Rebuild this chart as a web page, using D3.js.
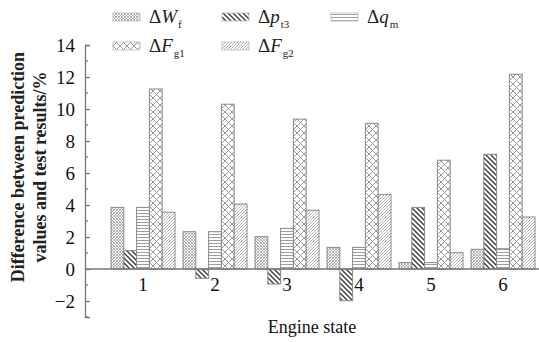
<!DOCTYPE html>
<html>
<head>
<meta charset="utf-8">
<script src="https://cdn.jsdelivr.net/npm/d3@7"></script>
<style>
  body { margin: 0; background: #fff; }
  svg { display: block; font-family: 'Liberation Serif', 'Times New Roman', serif; }
</style>
</head>
<body>
<div id="chart"></div>
<script>
const states = ['1', '2', '3', '4', '5', '6']
const seriesKeys = ['Wf', 'pt3', 'qm', 'Fg1', 'Fg2']

// values, in %
const dWf = [3.85, 2.33, 2.02, 1.35, 0.4, 1.23]
const dPt3 = [1.15, -0.58, -0.94, -1.98, 3.85, 7.17]
const dQm = [3.85, 2.33, 2.54, 1.35, 0.4, 1.27]
const dFg1 = [11.25, 10.3, 9.37, 9.1, 6.8, 12.17]
const dFg2 = [3.55, 4.06, 3.67, 4.65, 1.02, 3.25]

const yTicks = [-2, 0, 2, 4, 6, 8, 10, 12, 14]

const seriesValues = { Wf: dWf, pt3: dPt3, qm: dQm, Fg1: dFg1, Fg2: dFg2 }

const width = 539
const height = 342
const gray = '#8a8a8a'

const svg = d3.select('#chart').append('svg')
  .attr('width', width)
  .attr('height', height)

const defs = svg.append('defs')

// hatch patterns, one per series
function pattern(id, size, draw) {
  const p = defs.append('pattern')
    .attr('id', id)
    .attr('width', size)
    .attr('height', size)
    .attr('patternUnits', 'userSpaceOnUse')
  p.append('rect').attr('width', size).attr('height', size).attr('fill', '#fff')
  draw(p)
}

pattern('pat-Wf', 3, (p) => {
  p.append('path').attr('d', 'M-1,-1L4,4M-1,4L4,-1')
    .attr('stroke', '#a0a0a0').attr('stroke-width', 0.8)
})
pattern('pat-pt3', 5, (p) => {
  p.append('path').attr('d', 'M-1,-1L6,6M-1,4L1,6M4,-1L6,1')
    .attr('stroke', '#444').attr('stroke-width', 1.5)
})
pattern('pat-qm', 3, (p) => {
  p.append('path').attr('d', 'M0,0.5H3').attr('stroke', '#a0a0a0').attr('stroke-width', 1)
})
pattern('pat-Fg1', 7, (p) => {
  p.append('path').attr('d', 'M0,0L7,7M7,0L0,7M-1,6L1,8M6,-1L8,1M-1,1L1,-1M6,8L8,6')
    .attr('stroke', '#999').attr('stroke-width', 1)
})
pattern('pat-Fg2', 3, (p) => {
  p.append('path').attr('d', 'M-1,1L1,-1M0,3L3,0M2,4L4,2')
    .attr('stroke', '#aaa').attr('stroke-width', 0.9)
})

const x0 = d3.scaleBand()
  .domain(states)
  .range([107, 539])
  .paddingInner(8 / 72)
  .paddingOuter(4 / 72)

const x1 = d3.scaleBand()
  .domain(seriesKeys)
  .range([0, x0.bandwidth()])

const y = d3.scaleLinear()
  .domain([-3, 14])
  .range([317, 45])

// bars
const groups = svg.append('g')
  .selectAll('g')
  .data(states)
  .join('g')
  .attr('transform', (d) => `translate(${x0(d)},0)`)

groups.selectAll('rect')
  .data((d, i) => seriesKeys.map((k) => ({ key: k, value: seriesValues[k][i] })))
  .join('rect')
  .attr('x', (d) => x1(d.key))
  .attr('width', x1.bandwidth())
  .attr('y', (d) => y(Math.max(0, d.value)))
  .attr('height', (d) => Math.abs(y(d.value) - y(0)))
  .attr('fill', (d) => `url(#pat-${d.key})`)
  .attr('stroke', gray)
  .attr('stroke-width', 1)

// zero line across the plot
svg.append('line')
  .attr('x1', 85).attr('x2', width)
  .attr('y1', y(0)).attr('y2', y(0))
  .attr('stroke', '#777').attr('stroke-width', 1.3)

// y axis, ticks pointing inward
const yAxis = svg.append('g')
  .attr('transform', 'translate(85,0)')
  .call(d3.axisLeft(y).tickValues(yTicks).tickSize(-5).tickPadding(10).tickFormat((d) => d < 0 ? '\u2212' + Math.abs(d) : d))
yAxis.select('.domain').attr('stroke', '#777').attr('stroke-width', 1.3)
yAxis.selectAll('.tick line').attr('stroke', '#777').attr('stroke-width', 1.2)
yAxis.selectAll('.tick text')
  .attr('font-size', 19)
  .attr('font-family', 'Liberation Serif, serif')
  .attr('fill', '#111')

// minor ticks at odd values
svg.append('g')
  .selectAll('line')
  .data(d3.range(-3, 14, 2))
  .join('line')
  .attr('x1', 85).attr('x2', 88)
  .attr('y1', (d) => y(d)).attr('y2', (d) => y(d))
  .attr('stroke', '#777').attr('stroke-width', 1.2)

// x labels, no ticks
svg.append('g')
  .selectAll('text')
  .data(states)
  .join('text')
  .attr('x', (d) => x0(d) + x0.bandwidth() / 2)
  .attr('y', 291)
  .attr('text-anchor', 'middle')
  .attr('font-size', 19)
  .attr('fill', '#111')
  .text((d) => d)

svg.append('text')
  .attr('x', 312)
  .attr('y', 333)
  .attr('text-anchor', 'middle')
  .attr('font-size', 18)
  .attr('fill', '#111')
  .text('Engine state')

const yTitle = svg.append('text')
  .attr('transform', 'translate(0,167) rotate(-90)')
  .attr('text-anchor', 'middle')
  .attr('font-size', 18)
  .attr('font-weight', 'bold')
  .attr('fill', '#222')
yTitle.append('tspan').attr('x', 0).attr('y', 24).text('Difference between prediction')
yTitle.append('tspan').attr('x', 0).attr('y', 46).text('values and test results/%')

// legend
const legendItems = [
  { key: 'Wf', main: 'W', sub: 'f', col: 0, row: 0 },
  { key: 'pt3', main: 'p', sub: 't3', col: 1, row: 0 },
  { key: 'qm', main: 'q', sub: 'm', col: 2, row: 0 },
  { key: 'Fg1', main: 'F', sub: 'g1', col: 0, row: 1 },
  { key: 'Fg2', main: 'F', sub: 'g2', col: 1, row: 1 }
]

const legend = svg.append('g')
  .selectAll('g')
  .data(legendItems)
  .join('g')
  .attr('transform', (d) => `translate(${113 + d.col * 109},${17 + d.row * 29})`)

legend.append('rect')
  .attr('x', 0).attr('y', -4)
  .attr('width', 27).attr('height', 8)
  .attr('fill', (d) => `url(#pat-${d.key})`)
  .attr('stroke', '#bbb')
  .attr('stroke-width', 0.8)

const lt = legend.append('text')
  .attr('x', 36)
  .attr('y', 6)
  .attr('font-size', 19)
  .attr('fill', '#222')
lt.append('tspan').text('\u0394')
lt.append('tspan').attr('font-style', 'italic').text((d) => d.main)
lt.append('tspan').attr('font-size', 11).attr('dy', 5).attr('dx', 1).text((d) => d.sub)
</script>
</body>
</html>
